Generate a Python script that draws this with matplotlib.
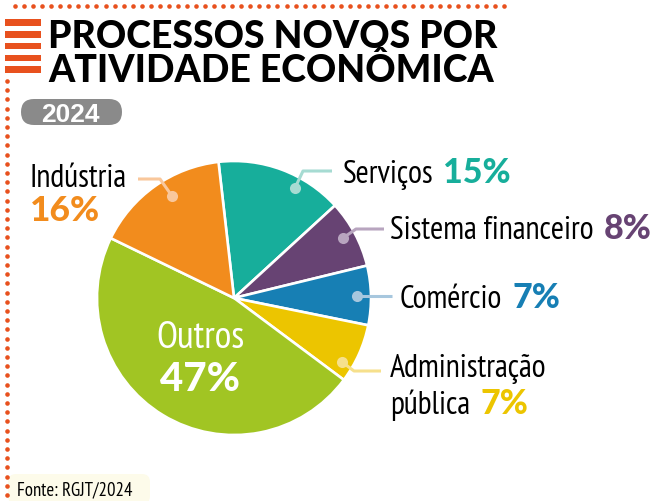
import matplotlib
matplotlib.use("Agg")
import matplotlib.pyplot as plt
from matplotlib.patches import FancyBboxPatch, Rectangle
import numpy as np

# ---- data ----
categories = ["Serviços", "Sistema financeiro", "Comércio", "Administração pública", "Outros", "Indústria"]
values = [15, 8, 7, 7, 47, 16]
colors = ["#17ae9b", "#674373", "#177fb4", "#ecc500", "#a1c523", "#f28c1d"]
light = ["#a6dbd2", "#b8a5bf", "#a7c7de", "#f6e08c", "#d0e291", "#f9c79b"]
pct_labels = [f"{v}%" for v in values]
title_lines = ["PROCESSOS NOVOS POR", "ATIVIDADE ECONÔMICA"]
year = "2024"
source = "Fonte: RGJT/2024"

W, H = 658, 502
fig = plt.figure(figsize=(W / 100, H / 100), dpi=100)

NARROW = ["PT Sans Narrow", "DejaVu Sans"]
HEAVY = ["Lato", "DejaVu Sans"]
HW = "black"

# ---- pie ----
cx, cy, R = 234, 299, 137
pax = fig.add_axes([(cx - R) / W, (H - cy - R) / H, 2 * R / W, 2 * R / H])
wedges, _ = pax.pie(values, colors=colors, startangle=96.5, counterclock=False,
                    wedgeprops=dict(edgecolor="white", linewidth=1.9))
pax.set_xlim(-1, 1)
pax.set_ylim(-1, 1)
pax.set_aspect("auto")
pax.axis("off")

# ---- overlay ----
ax = fig.add_axes([0, 0, 1, 1], zorder=5)
ax.set_xlim(0, W)
ax.set_ylim(H, 0)
ax.axis("off")
ax.patch.set_alpha(0)

dot_c = "#e8511e"
# dotted border
xs = np.arange(15, 505, 9.05)
ax.plot(xs, np.full_like(xs, 6.5), "o", ms=3.3, color=dot_c, mec="none")
ys = np.arange(82, 498, 9.2)
ax.plot(np.full_like(ys, 7), ys, "o", ms=3.3, color=dot_c, mec="none")
# hamburger bars
for y0 in [20, 32, 43.5, 55.5, 67]:
    ax.add_patch(Rectangle((5, y0), 36, 6.5, color=dot_c, lw=0))

# title
ax.text(48, 48, title_lines[0], fontsize=27, fontweight=HW, family=HEAVY,
        ha="left", va="baseline", color="black")
ax.text(48, 82.5, title_lines[1], fontsize=27, fontweight=HW, family=HEAVY,
        ha="left", va="baseline", color="black")

# year badge
ax.add_patch(FancyBboxPatch((21, 100), 101, 26, boxstyle="round,pad=0,rounding_size=13",
                            fc="#8a8a8a", ec="none"))
ax.text(70, 122, year, fontsize=19, fontweight="bold", family=["Liberation Sans", "DejaVu Sans"],
        ha="center", va="baseline", color="white")

# source box
ax.add_patch(FancyBboxPatch((8, 475), 142, 30, boxstyle="round,pad=0,rounding_size=8",
                            fc="#fdfbea", ec="none"))
ax.text(17, 495, source, fontsize=13.5, family=NARROW, ha="left", va="baseline", color="black")

# leader lines (annotation geometry in pixels)
leaders = {
    "Serviços": [(295, 189), (303, 172), (332, 172)],
    "Sistema financeiro": [(343, 239), (356, 230), (384, 230)],
    "Comércio": [(357, 297), (392, 297)],
    "Administração pública": [(342, 363), (354, 372), (381, 372)],
    "Indústria": [(172, 197), (160, 180), (138, 180)],
}
for i, cat in enumerate(categories):
    if cat in leaders:
        pts = np.array(leaders[cat])
        ax.plot(pts[:, 0], pts[:, 1], color=light[i], lw=2.2, solid_capstyle="butt")
        ax.plot(pts[0, 0], pts[0, 1], "o", ms=8, color=light[i], mec="none")

LBL = 23
PCT = 24.5
# labels
i = categories.index("Serviços")
ax.text(343, 183, "Serviços", fontsize=LBL, family=NARROW, va="baseline")
ax.text(443, 183, pct_labels[i], fontsize=PCT, family=HEAVY, fontweight=HW, color=colors[i], va="baseline")

i = categories.index("Sistema financeiro")
ax.text(390, 239, "Sistema financeiro", fontsize=LBL, family=NARROW, va="baseline")
ax.text(604, 239, pct_labels[i], fontsize=PCT, family=HEAVY, fontweight=HW, color=colors[i], va="baseline")

i = categories.index("Comércio")
ax.text(400, 308, "Comércio", fontsize=LBL, family=NARROW, va="baseline")
ax.text(513, 308, pct_labels[i], fontsize=PCT, family=HEAVY, fontweight=HW, color=colors[i], va="baseline")

i = categories.index("Administração pública")
ax.text(390, 377, "Administração", fontsize=LBL, family=NARROW, va="baseline")
ax.text(390, 414, "pública", fontsize=LBL, family=NARROW, va="baseline")
ax.text(481, 414, pct_labels[i], fontsize=PCT, family=HEAVY, fontweight=HW, color=colors[i], va="baseline")

i = categories.index("Indústria")
ax.text(30, 187, "Indústria", fontsize=LBL, family=NARROW, va="baseline")
ax.text(30, 221, pct_labels[i], fontsize=PCT + 1, family=HEAVY, fontweight=HW, color=colors[i], va="baseline")

i = categories.index("Outros")
ax.text(201, 348, "Outros", fontsize=27.5, family=NARROW, color="white", ha="center", va="baseline")
ax.text(200, 391, pct_labels[i], fontsize=29, family=HEAVY, fontweight=HW, color="white", ha="center", va="baseline")

fig.savefig("out.png", dpi=100)
